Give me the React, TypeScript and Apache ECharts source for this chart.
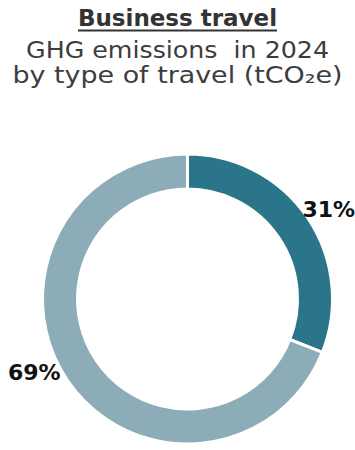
import React, { useEffect, useRef } from "react";
import * as echarts from "echarts";

const titleText = "Business travel";
const subtitleLines = ["GHG emissions  in 2024", "by type of travel (tCO₂e)"];
const categories = ["Type A", "Type B"];
const shares = [31, 69];
const colors = ["#2A7589", "#8CACB8"];

export default function App() {
  const ref = useRef<HTMLDivElement>(null);
  useEffect(() => {
    document.body.style.margin = "0";
    const chart = echarts.init(ref.current!, null, { renderer: "svg" });
    const lineY = [50, 75];
    const lineScale = [1.1, 1.17];
    chart.setOption({
      animation: false,
      backgroundColor: "#ffffff",
      graphic: [
        {
          type: "text",
          x: 177.5,
          y: 17.5,
          style: {
            text: titleText,
            font: "bold 23px 'DejaVu Sans'",
            fill: "#333333",
            align: "center",
            verticalAlign: "middle",
            textAlign: "center",
            textVerticalAlign: "middle",
          },
        },
        {
          type: "line",
          shape: { x1: 78, y1: 30.5, x2: 277, y2: 30.5 },
          style: { stroke: "#333333", lineWidth: 2 },
        },
        ...subtitleLines.map((t, i) => ({
          type: "text",
          x: 177.5,
          y: lineY[i],
          scaleX: lineScale[i],
          style: {
            text: t,
            font: "23px 'DejaVu Sans'",
            fill: "#3d3d3d",
            align: "center",
            verticalAlign: "middle",
            textAlign: "center",
            textVerticalAlign: "middle",
          },
        })),
      ],
      series: [
        {
          type: "pie",
          center: [187.5, 299],
          radius: [110, 145],
          startAngle: 90,
          clockwise: true,
          itemStyle: { borderColor: "#ffffff", borderWidth: 3 },
          label: {
            show: true,
            position: "outside",
            formatter: "{c}%",
            fontFamily: "DejaVu Sans",
            fontWeight: "bold",
            fontSize: 22,
            color: "#111111",
            distanceToLabelLine: -3,
            overflow: "none",
          },
          labelLine: { show: false, length: 0, length2: 0 },
          labelLayout: (p: any) => ({ dx: p.dataIndex === 1 ? -10 : -2, dy: -8 }),
          emphasis: { disabled: true },
          data: categories.map((name, i) => ({
            name,
            value: shares[i],
            itemStyle: { color: colors[i] },
          })),
        },
      ],
    });
    return () => chart.dispose();
  }, []);
  return <div ref={ref} style={{ width: 355, height: 450 }} />;
}
